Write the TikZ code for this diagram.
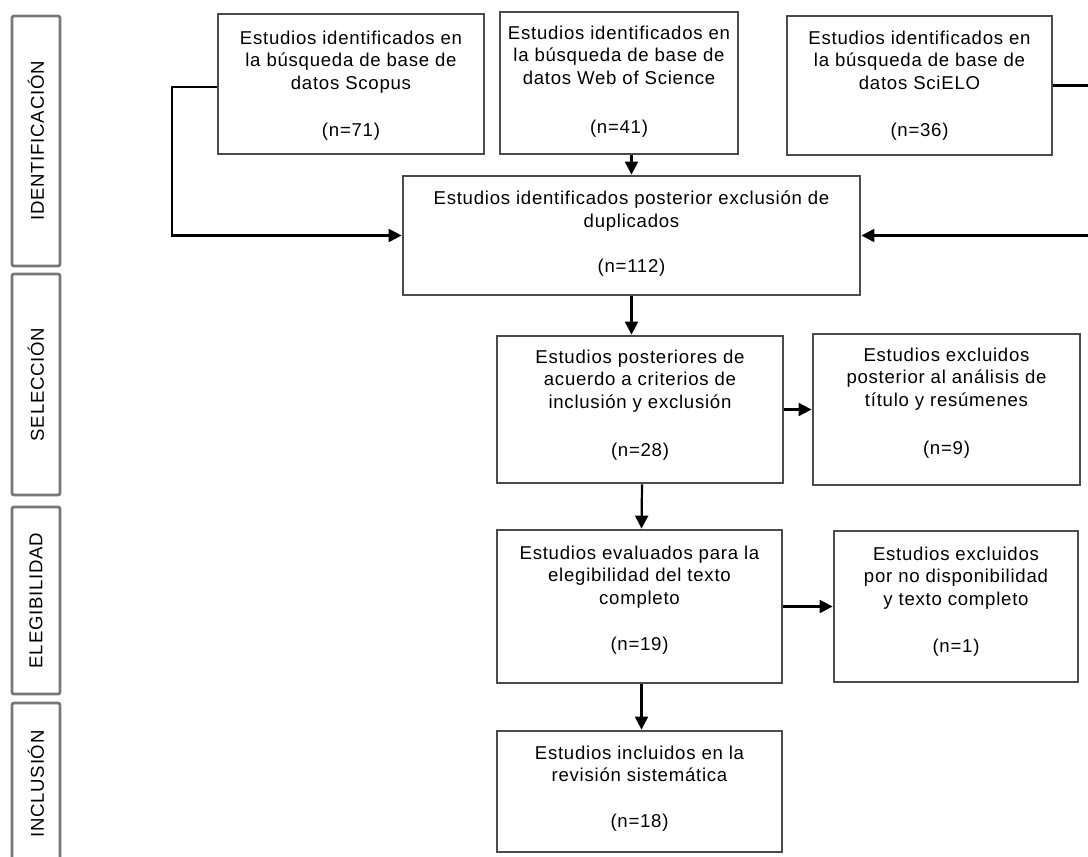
\documentclass[tikz,border=0pt]{standalone}
\usepackage{fontspec}
\setmainfont[LetterSpace=4]{Liberation Sans}
\usetikzlibrary{arrows.meta}
\definecolor{boxgray}{RGB}{75,75,75}
\definecolor{phasegray}{RGB}{120,120,120}
\newcommand{\txtsize}{\fontsize{18.6pt}{22.5pt}\selectfont}
\newcommand{\bxt}[4]{\begin{minipage}[c][#2][t]{#1}\centering\txtsize\vspace*{#3}#4\end{minipage}}
\tikzset{
  box/.style={draw=boxgray, line width=2.8pt, inner sep=0pt, fill=white},
  phase/.style={draw=phasegray, line width=2.8pt, rounded corners=2pt, inner sep=0pt, font=\txtsize, rotate=90},
  arr/.style={draw=black, line width=2.2pt, -{Triangle[length=13pt,width=13pt]}},
}
\begin{document}
\begin{tikzpicture}[x=1pt,y=-1pt]
\useasboundingbox (0,0) rectangle (1088,857);
\clip (0,0) rectangle (1088,857);
% phases
\node[phase, minimum width=250pt, minimum height=48pt] (p1) at (36,141) {IDENTIFICACIÓN};
\node[phase, minimum width=221pt, minimum height=48pt] (p2) at (36,384.5) {SELECCIÓN};
\node[phase, minimum width=187pt, minimum height=48pt] (p3) at (36,600.5) {ELEGIBILIDAD};
\node[phase, minimum width=162pt, minimum height=48pt] (p4) at (36,784) {INCLUSIÓN};
% boxes
\node[box] (scopus) at (351,84) {\bxt{266pt}{140pt}{17pt}{Estudios identificados en\\la búsqueda de base de\\datos Scopus\\[25pt](n=71)}};
\node[box] (wos) at (619,83) {\bxt{238pt}{142pt}{14pt}{Estudios identificados en\\la búsqueda de base de\\datos Web of Science\\[27pt](n=41)}};
\node[box] (scielo) at (919.5,85.5) {\bxt{265pt}{139pt}{15pt}{Estudios identificados en\\la búsqueda de base de\\datos SciELO\\[25pt](n=36)}};
\node[box] (dup) at (631.5,235.5) {\bxt{457pt}{119pt}{15pt}{Estudios identificados posterior exclusión de\\duplicados\\[23pt](n=112)}};
\node[box] (b3) at (640,409.5) {\bxt{286pt}{147pt}{14pt}{Estudios posteriores de\\acuerdo a criterios de\\inclusión y exclusión\\[26pt](n=28)}};
\node[box] (ex1) at (946.5,409.5) {\bxt{267pt}{151pt}{14pt}{Estudios excluidos\\posterior al análisis de\\título y resúmenes\\[26pt](n=9)}};
\node[box] (b4) at (639.5,606.5) {\bxt{285pt}{153pt}{16pt}{Estudios evaluados para la\\elegibilidad del texto\\completo\\[24pt](n=19)}};
\node[box] (ex2) at (956,606.5) {\bxt{244pt}{151pt}{16pt}{Estudios excluidos\\por no disponibilidad\\y texto completo\\[25pt](n=1)}};
\node[box] (b5) at (639.5,791.5) {\bxt{285pt}{121pt}{15pt}{Estudios incluidos en la\\revisión sistemática\\[23pt](n=18)}};
% connectors
\coordinate (L) at (172,87);
\coordinate (R) at (1095,0);
\draw[arr] (scopus.west) ++(0,3) -- (L) |- (dup.west);
\draw[arr] (scielo.east) -- (scielo.east -| R) |- (dup.east);
\draw[arr] (dup.north |- wos.south) -- (dup.north);
\draw[arr] (dup.south) -- (dup.south |- b3.north);
\draw[arr] (b3.east) -- (ex1.west);
\draw[arr] ([xshift=2pt]b3.south) -- ([xshift=2pt]b4.north);
\draw[arr] (b4.east) -- (ex2.west);
\draw[arr] ([xshift=2pt]b4.south) -- ([xshift=2pt]b5.north);
\end{tikzpicture}
\end{document}
